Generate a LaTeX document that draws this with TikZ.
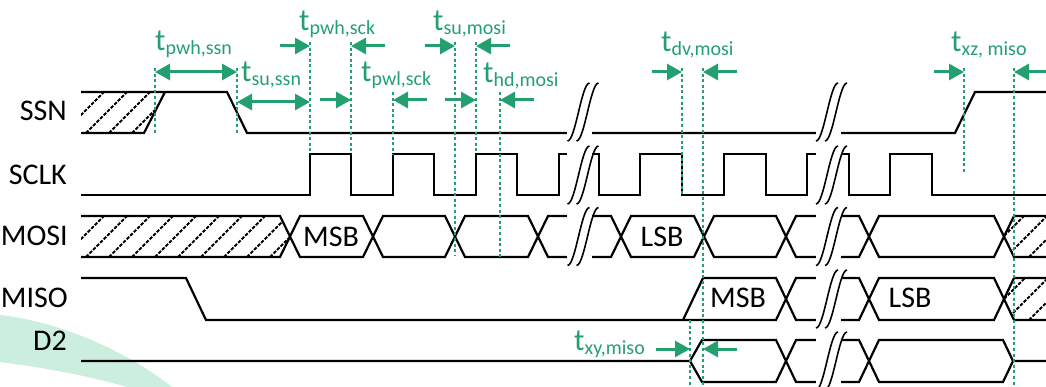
\documentclass[tikz,border=0pt]{standalone}
\usepackage{fontspec}
\setmainfont{Carlito}
\usetikzlibrary{arrows.meta}
\definecolor{tg}{RGB}{36,160,112}
\definecolor{mint}{RGB}{204,238,222}
\newcommand\tsub[1]{{\fontsize{31}{31}\selectfont t}\raisebox{-4pt}{\fontsize{20}{20}\selectfont #1}}
\tikzset{
  brkline/.style={line width=1.6pt},
  brkmark/.pic={
    \fill[white] (-12.5,-30) rectangle (12.5,30);
    \draw[brkline] (-12,29) .. controls (-4,29) and (2,-29) .. (10,-29);
    \draw[brkline] (-3,29) .. controls (5,29) and (11,-29) .. (19,-29);
  }
}
\begin{document}
\begin{tikzpicture}[x=1pt,y=-1pt,
  sig/.style={line width=2.2pt, line join=miter},
  tim/.style={tg, line width=2.3pt, dash pattern=on 3pt off 2.6pt},
  arr/.style={tg, line width=3pt, -{Triangle[length=15pt,width=16pt]}},
  darr/.style={tg, line width=3pt, {Triangle[length=15pt,width=16pt]}-{Triangle[length=15pt,width=16pt]}},
  sname/.style={anchor=east, font=\fontsize{30}{30}\selectfont, inner sep=0pt},
  bits/.style={font=\fontsize{30}{30}\selectfont, inner sep=0pt},
  tlab/.style={text=tg, anchor=base west, inner sep=0pt},
  hatch/.style={line width=1.9pt, dash pattern=on 3.5pt off 1.5pt}
]
\useasboundingbox (0,0) rectangle (1046,387);
\fill[white] (0,0) rectangle (1046,387);
% background decoration
\fill[mint] (0,315) .. controls (60,322) and (125,350) .. (172,387) -- (127,387) .. controls (90,376) and (40,367) .. (0,362) -- cycle;

% signal names
\node[sname] (nssn)  at (67,111) {SSN};
\node[sname] (nsclk) at (67,175) {SCLK};
\node[sname] (nmosi) at (68,236) {MOSI};
\node[sname] (nmiso) at (68,298) {MISO};
\node[sname] (nd2)   at (67,341) {D2};

% SSN
\begin{scope}
  \clip (81,92) -- (165,92) -- (144,133) -- (81,133) -- cycle;
  \foreach \x in {40,63,...,170} \draw[hatch] (\x,133) -- ++(41,-41);
\end{scope}
\draw[sig] (81,92) -- (227,92) -- (247,133) -- (955,133) -- (975,92) -- (1046,92);
\draw[sig] (81,133) -- (144,133) -- (165,92);

% SCLK
\draw[sig] (81,195) -- (310,195) -- (310,154) -- (351,154) -- (351,195) -- (393,195) -- (393,154) -- (434,154) -- (434,195) -- (476,195) -- (476,154) -- (517,154) -- (517,195) -- (559,195) -- (559,154) -- (599,154) -- (599,195) -- (640,195) -- (640,154) -- (682,154) -- (682,195) -- (724,195) -- (724,154) -- (766,154) -- (766,195) -- (807,195) -- (807,154) -- (849,154) -- (849,195) -- (890,195) -- (890,154) -- (932,154) -- (932,195) -- (1046,195);

% MOSI
\begin{scope}
  \clip (81,216) -- (280,216) -- (290,236.5) -- (280,257) -- (81,257) -- cycle;
  \foreach \x in {40,63,...,300} \draw[hatch] (\x,257) -- ++(41,-41);
\end{scope}
\begin{scope}
  \clip (1004,236.5) -- (1014,216) -- (1046,216) -- (1046,257) -- (1014,257) -- cycle;
  \foreach \x in {960,983,...,1050} \draw[hatch] (\x,257) -- ++(41,-41);
\end{scope}
\draw[sig] (81,216) -- (280,216) -- (300,257) -- (363,257) -- (383,216) -- (445,216) -- (465,257) -- (528,257) -- (548,216) -- (611,216) -- (631,257) -- (694,257) -- (714,216) -- (776,216) -- (796,257) -- (859,257) -- (879,216) -- (994,216) -- (1014,257) -- (1046,257);
\draw[sig] (81,257) -- (280,257) -- (300,216) -- (363,216) -- (383,257) -- (445,257) -- (465,216) -- (528,216) -- (548,257) -- (611,257) -- (631,216) -- (694,216) -- (714,257) -- (776,257) -- (796,216) -- (859,216) -- (879,257) -- (994,257) -- (1014,216) -- (1046,216);
\node[bits] (mosimsb) at (331,237) {MSB};
\node[bits] (mosilsb) at (662,237) {LSB};

% MISO
\begin{scope}
  \clip (1004,299) -- (1014,278) -- (1046,278) -- (1046,320) -- (1014,320) -- cycle;
  \foreach \x in {960,983,...,1050} \draw[hatch] (\x,320) -- ++(42,-42);
\end{scope}
\draw[sig] (81,278) -- (186,278) -- (206,320) -- (776,320) -- (796,278) -- (859,278) -- (879,320) -- (994,320) -- (1014,278) -- (1046,278);
\draw[sig] (683,320) -- (703,278) -- (776,278) -- (796,320) -- (859,320) -- (879,278) -- (994,278) -- (1014,320) -- (1046,320);
\node[bits] (misomsb) at (738,298) {MSB};
\node[bits] (misolsb) at (910,298) {LSB};

% D2
\draw[sig] (81,361) -- (690,361) -- (702,340) -- (776,340) -- (796,382) -- (859,382) -- (879,340) -- (1003,340) -- (1013,361) -- (1046,361);
\draw[sig] (690,361) -- (702,382) -- (776,382) -- (796,340) -- (859,340) -- (879,382) -- (1003,382) -- (1013,361);

% breaks
\foreach \y in {112,175,236.5} \pic at (579.5,\y) {brkmark};
\foreach \y in {112,175,236.5,299,361} \pic at (828,\y) {brkmark};

% timing guide lines
\coordinate (g1t) at (155,68);   \coordinate (g1b) at (155,133);
\coordinate (g2t) at (237,68);   \coordinate (g2b) at (237,133);
\coordinate (g3t) at (310,42);   \coordinate (g3b) at (310,154);
\coordinate (g4t) at (351,42);   \coordinate (g4b) at (351,154);
\coordinate (g5t) at (393,92);   \coordinate (g5b) at (393,154);
\coordinate (g6t) at (455,42);   \coordinate (g6b) at (455,256);
\coordinate (g7t) at (476,42);   \coordinate (g7b) at (476,154);
\coordinate (g8t) at (500,92);   \coordinate (g8b) at (500,257);
\coordinate (g9t) at (682,68);   \coordinate (g9b) at (682,195);
\coordinate (g10t) at (703,68);  \coordinate (g10b) at (703,387);
\coordinate (g11t) at (964,68);  \coordinate (g11b) at (964,173);
\coordinate (g12t) at (1014,68); \coordinate (g12b) at (1014,387);
\coordinate (g13t) at (690,320); \coordinate (g13b) at (690,387);
\foreach \i in {1,...,13} \draw[tim] (g\i t) -- (g\i b);

% arrows
\coordinate (a1l) at (155,72);  \coordinate (a1r) at (237,72);
\draw[darr] (a1l) -- (a1r);
\coordinate (a2l) at (237,102); \coordinate (a2r) at (310,102);
\draw[darr] (a2l) -- (a2r);
\coordinate (a3s) at (280,46);  \coordinate (a3e) at (310,46);
\coordinate (a4s) at (385,46);  \coordinate (a4e) at (351,46);
\draw[arr] (a3s) -- (a3e); \draw[arr] (a4s) -- (a4e);
\coordinate (a5s) at (320,100); \coordinate (a5e) at (351,100);
\coordinate (a6s) at (427,100); \coordinate (a6e) at (393,100);
\draw[arr] (a5s) -- (a5e); \draw[arr] (a6s) -- (a6e);
\coordinate (a7s) at (425,46);  \coordinate (a7e) at (455,46);
\coordinate (a8s) at (510,46);  \coordinate (a8e) at (476,46);
\draw[arr] (a7s) -- (a7e); \draw[arr] (a8s) -- (a8e);
\coordinate (a9s) at (445,100); \coordinate (a9e) at (476,100);
\coordinate (a10s) at (534,100); \coordinate (a10e) at (500,100);
\draw[arr] (a9s) -- (a9e); \draw[arr] (a10s) -- (a10e);
\coordinate (a11s) at (652,72); \coordinate (a11e) at (682,72);
\coordinate (a12s) at (737,72); \coordinate (a12e) at (703,72);
\draw[arr] (a11s) -- (a11e); \draw[arr] (a12s) -- (a12e);
\coordinate (a13s) at (934,72); \coordinate (a13e) at (964,72);
\coordinate (a14s) at (1050,72); \coordinate (a14e) at (1014,72);
\draw[arr] (a13s) -- (a13e); \draw[arr] (a14s) -- (a14e);
\coordinate (a15s) at (656,349); \coordinate (a15e) at (690,349);
\coordinate (a16s) at (737,349); \coordinate (a16e) at (703,349);
\draw[arr] (a15s) -- (a15e); \draw[arr] (a16s) -- (a16e);

% timing labels
\node[tlab] (tpwhssn) at (155,51) {\tsub{pwh,ssn}};
\node[tlab] (tsussn)  at (241,82) {\tsub{su,ssn}};
\node[tlab] (tpwhsck) at (299,31) {\tsub{pwh,sck}};
\node[tlab] (tpwlsck) at (361,82) {\tsub{pwl,sck}};
\node[tlab] (tsumosi) at (433,31) {\tsub{su,mosi}};
\node[tlab] (thdmosi) at (483,83) {\tsub{hd,mosi}};
\node[tlab] (tdvmosi) at (661,52) {\tsub{dv,mosi}};
\node[tlab] (txzmiso) at (951,52) {\tsub{xz, miso}};
\node[tlab] (txymiso) at (574,350) {\tsub{xy,miso}};
\end{tikzpicture}
\end{document}
